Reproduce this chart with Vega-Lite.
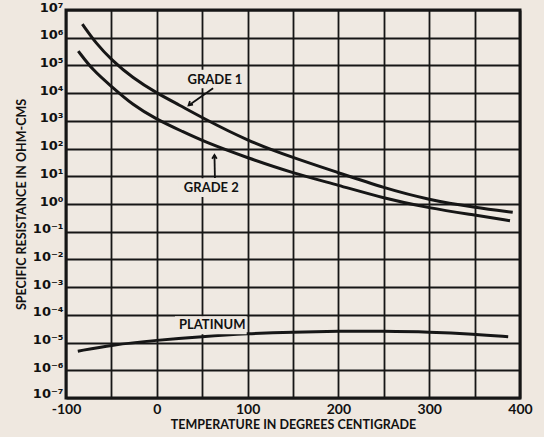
{
  "$schema": "https://vega.github.io/schema/vega-lite/v6.json",
  "width": 454,
  "height": 388,
  "autosize": "none",
  "padding": {"left": 66, "top": 10, "right": 24, "bottom": 39},
  "background": "#efe8e0",
  "config": {
    "view": {"stroke": "#161616", "strokeWidth": 3, "fill": "#efe9e2"},
    "font": "Lato"
  },
  "datasets": {
    "curves": [
      {"series": "Grade 1", "temp": -82, "resistance": 3100000},
      {"series": "Grade 1", "temp": -67, "resistance": 630000},
      {"series": "Grade 1", "temp": -50, "resistance": 160000},
      {"series": "Grade 1", "temp": -26.5, "resistance": 35000},
      {"series": "Grade 1", "temp": 0, "resistance": 10000},
      {"series": "Grade 1", "temp": 25, "resistance": 3700},
      {"series": "Grade 1", "temp": 50, "resistance": 1300},
      {"series": "Grade 1", "temp": 100, "resistance": 190},
      {"series": "Grade 1", "temp": 150, "resistance": 47},
      {"series": "Grade 1", "temp": 200, "resistance": 13.5},
      {"series": "Grade 1", "temp": 250, "resistance": 3.8},
      {"series": "Grade 1", "temp": 300, "resistance": 1.4},
      {"series": "Grade 1", "temp": 350, "resistance": 0.76},
      {"series": "Grade 1", "temp": 392, "resistance": 0.5},
      {"series": "Grade 2", "temp": -86.5, "resistance": 330000},
      {"series": "Grade 2", "temp": -70.6, "resistance": 68000},
      {"series": "Grade 2", "temp": -50.4, "resistance": 18000},
      {"series": "Grade 2", "temp": -26.5, "resistance": 3700},
      {"series": "Grade 2", "temp": 0, "resistance": 1120},
      {"series": "Grade 2", "temp": 28.5, "resistance": 410},
      {"series": "Grade 2", "temp": 52, "resistance": 178},
      {"series": "Grade 2", "temp": 100, "resistance": 46},
      {"series": "Grade 2", "temp": 150, "resistance": 13},
      {"series": "Grade 2", "temp": 200, "resistance": 4.8},
      {"series": "Grade 2", "temp": 250, "resistance": 1.6},
      {"series": "Grade 2", "temp": 300, "resistance": 0.71},
      {"series": "Grade 2", "temp": 350, "resistance": 0.4},
      {"series": "Grade 2", "temp": 389, "resistance": 0.25},
      {"series": "Platinum", "temp": -87, "resistance": 0.0000049},
      {"series": "Platinum", "temp": -50, "resistance": 0.0000082},
      {"series": "Platinum", "temp": 0, "resistance": 0.0000122},
      {"series": "Platinum", "temp": 50, "resistance": 0.0000165},
      {"series": "Platinum", "temp": 100, "resistance": 0.000021},
      {"series": "Platinum", "temp": 150, "resistance": 0.000024},
      {"series": "Platinum", "temp": 200, "resistance": 0.0000257},
      {"series": "Platinum", "temp": 250, "resistance": 0.0000257},
      {"series": "Platinum", "temp": 300, "resistance": 0.000024},
      {"series": "Platinum", "temp": 350, "resistance": 0.00002},
      {"series": "Platinum", "temp": 387, "resistance": 0.0000162}
    ],
    "labels": [
      {"label": "GRADE 1", "x": 64, "y": 29000, "x0": 30, "x1": 99, "y0": 70000, "y1": 15000},
      {"label": "GRADE 2", "x": 60, "y": 3.7, "x0": 24, "x1": 98, "y0": 8.5, "y1": 1.8},
      {"label": "PLATINUM", "x": 61, "y": 0.000043, "x0": 20, "x1": 99, "y0": 0.00009, "y1": 0.00002}
    ],
    "arrows": [
      {"name": "Grade 1", "tx": 62, "ty": 15000, "hx": 35, "hy": 3600, "angle": 229},
      {"name": "Grade 2", "tx": 64, "ty": 8.7, "hx": 63.5, "hy": 59, "angle": 0}
    ]
  },
  "encoding": {},
  "layer": [
    {
      "data": {"name": "curves"},
      "mark": {"type": "line", "interpolate": "basis", "strokeWidth": 3, "color": "#161616"},
      "encoding": {
        "x": {
          "field": "temp", "type": "quantitative",
          "scale": {"domain": [-100, 400], "nice": false, "zero": false},
          "axis": {
            "title": "TEMPERATURE IN DEGREES CENTIGRADE",
            "titleFontSize": 12.5, "titleFontWeight": "bold", "titleColor": "#111",
            "titlePadding": 2,
            "values": [-100, -50, 0, 50, 100, 150, 200, 250, 300, 350, 400],
            "labelExpr": "datum.value % 100 == 0 ? datum.value : ''",
            "labelFontSize": 14, "labelFontWeight": "bold", "labelColor": "#111",
            "labelPadding": 4, "labelFlush": false, "labelOverlap": false,
            "ticks": false, "domain": false,
            "grid": true, "gridColor": "#161616", "gridWidth": 1.8, "gridOpacity": 1
          }
        },
        "y": {
          "field": "resistance", "type": "quantitative",
          "scale": {"type": "log", "domain": [1e-7, 1e7], "nice": false},
          "axis": {
            "title": "SPECIFIC RESISTANCE IN OHM-CMS",
            "titleFontSize": 12.5, "titleFontWeight": "bold", "titleColor": "#111",
            "titlePadding": 4,
            "values": [1e-7, 1e-6, 1e-5, 1e-4, 1e-3, 1e-2, 1e-1, 1, 10, 100, 1000, 10000, 100000, 1000000, 10000000],
            "labelExpr": "'10' + ['⁻⁷','⁻⁶','⁻⁵','⁻⁴','⁻³','⁻²','⁻¹','⁰','¹','²','³','⁴','⁵','⁶','⁷'][round(log(datum.value)/LN10)+7]",
            "labelFont": "DejaVu Sans",
            "labelFontSize": 13, "labelFontWeight": "bold", "labelColor": "#111",
            "labelPadding": 3, "labelFlush": false, "labelOverlap": false,
            "labelBaseline": "middle",
            "labelOffset": {"condition": {"test": "datum.value < 2e-7", "value": -5}, "value": -3},
            "ticks": false, "domain": false,
            "grid": true, "gridColor": "#161616", "gridWidth": 1.8, "gridOpacity": 1
          }
        },
        "detail": {"field": "series", "type": "nominal"}
      }
    },
    {
      "data": {"name": "labels"},
      "mark": {"type": "rect", "color": "#efe9e2"},
      "encoding": {
        "x": {"field": "x0", "type": "quantitative"},
        "x2": {"field": "x1"},
        "y": {"field": "y0", "type": "quantitative"},
        "y2": {"field": "y1"}
      }
    },
    {
      "data": {"name": "labels"},
      "mark": {"type": "text", "fontSize": 13, "fontWeight": "bold", "color": "#111", "baseline": "middle", "align": "center"},
      "encoding": {
        "x": {"field": "x", "type": "quantitative"},
        "y": {"field": "y", "type": "quantitative"},
        "text": {"field": "label"}
      }
    },
    {
      "data": {"name": "arrows"},
      "mark": {"type": "rule", "strokeWidth": 1.8, "color": "#111"},
      "encoding": {
        "x": {"field": "tx", "type": "quantitative"},
        "y": {"field": "ty", "type": "quantitative"},
        "x2": {"field": "hx"},
        "y2": {"field": "hy"}
      }
    },
    {
      "data": {"name": "arrows"},
      "mark": {"type": "point", "shape": "M-0.6,1L0,0L0.6,1", "filled": false, "strokeWidth": 1.8, "size": 60, "color": "#111", "opacity": 1},
      "encoding": {
        "x": {"field": "hx", "type": "quantitative"},
        "y": {"field": "hy", "type": "quantitative"},
        "angle": {"field": "angle", "type": "quantitative", "scale": null}
      }
    }
  ]
}
